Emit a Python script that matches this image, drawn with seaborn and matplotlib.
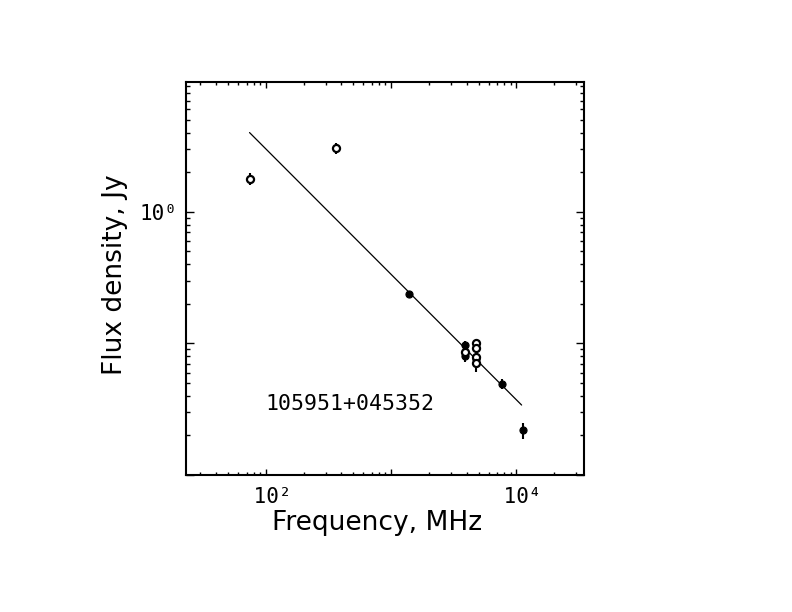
import numpy as np
import pandas as pd
import seaborn as sns
import matplotlib.pyplot as plt
from matplotlib.ticker import LogLocator, NullFormatter, FixedLocator, FixedFormatter

# open-circle measurements (MHz, Jy)
open_freq = [74, 365, 3900, 4800, 4800, 4800, 4800]
open_flux = [1.78, 3.04, 0.0859, 0.101, 0.0917, 0.0788, 0.0714]
open_err = [0.18, 0.30, 0.004, 0.004, 0.004, 0.004, 0.011]

# filled measurements (MHz, Jy)
fill_freq = [1400, 3900, 3900, 4800, 7700, 11200]
fill_flux = [0.238, 0.0966, 0.080, 0.0757, 0.0494, 0.0219]
fill_err = [0.007, 0.007, 0.008, 0.004, 0.0045, 0.003]

# fitted spectrum end points
fit_freq = [74, 11000]
fit_flux = [4.0, 0.034]

source_name = "105951+045352"
xtick_vals = [100, 1000, 10000]
xtick_text = [" 10\u00b2", "", " 10\u2074"]
ytick_vals = [0.01, 0.1, 1, 10]
ytick_text = ["", "", "10\u2070", ""]

sns.set_style("ticks")
plt.rcParams['font.family'] = ['DejaVu Sans Mono', 'DejaVu Sans']
plt.rcParams['text.color'] = 'black'
plt.rcParams['axes.labelcolor'] = 'black'
plt.rcParams['xtick.color'] = 'black'
plt.rcParams['ytick.color'] = 'black'

fig = plt.figure(figsize=(7.92, 6.12), dpi=100)
ax = fig.add_axes([0.2348, 0.2239, 0.5025, 0.6422])

op = pd.DataFrame({'freq': open_freq, 'flux': open_flux, 'err': open_err})
fl = pd.DataFrame({'freq': fill_freq, 'flux': fill_flux, 'err': fill_err})
fit = pd.DataFrame({'freq': fit_freq, 'flux': fit_flux})

sns.lineplot(data=fit, x='freq', y='flux', color='black', linewidth=0.9, ax=ax)

ax.errorbar(op['freq'], op['flux'], yerr=op['err'], fmt='none', ecolor='black',
            elinewidth=1.5, capsize=0, zorder=3)
ax.errorbar(fl['freq'], fl['flux'], yerr=fl['err'], fmt='none', ecolor='black',
            elinewidth=1.5, capsize=0, zorder=3)

sns.scatterplot(data=fl, x='freq', y='flux', marker='o', s=26, color='black',
                edgecolor='black', linewidth=0.8, zorder=4, ax=ax)
sns.scatterplot(data=op, x='freq', y='flux', marker='o', s=26, facecolor='white',
                edgecolor='black', linewidth=1.6, zorder=5, ax=ax)

ax.set_xscale('log')
ax.set_yscale('log')
ax.set_xlim(23, 34600)
ax.set_ylim(0.01, 9.7)

ax.xaxis.set_major_locator(FixedLocator(xtick_vals))
ax.xaxis.set_major_formatter(FixedFormatter(xtick_text))
ax.yaxis.set_major_locator(FixedLocator(ytick_vals))
ax.yaxis.set_major_formatter(FixedFormatter(ytick_text))
ax.xaxis.set_minor_locator(LogLocator(base=10, subs=np.arange(2, 10), numticks=20))
ax.yaxis.set_minor_locator(LogLocator(base=10, subs=np.arange(2, 10), numticks=20))
ax.xaxis.set_minor_formatter(NullFormatter())
ax.yaxis.set_minor_formatter(NullFormatter())

ax.tick_params(axis='x', which='major', direction='in', length=4.5, width=1,
               top=True, bottom=True, labelsize=15, pad=9)
ax.tick_params(axis='x', which='minor', direction='in', length=2.5, width=1,
               top=True, bottom=True)
ax.tick_params(axis='y', which='major', direction='in', length=6, width=1,
               left=True, right=True, labelsize=15, pad=6)
ax.tick_params(axis='y', which='minor', direction='in', length=3.2, width=1,
               left=True, right=True)

for sp in ax.spines.values():
    sp.set_linewidth(1.5)
    sp.set_color('black')

ax.set_xlabel("Frequency, MHz", fontsize=19, family='DejaVu Sans')
ax.set_ylabel("Flux density, Jy", fontsize=19, family='DejaVu Sans')
ax.xaxis.set_label_coords(0.479, -0.122)
ax.xaxis.label.set_va('center')
ax.yaxis.set_label_coords(-0.178, 0.509)
ax.yaxis.label.set_va('center')

ax.text(0.2, 0.18, source_name, transform=ax.transAxes, fontsize=15.5,
        ha='left', va='center')

fig.savefig('out.png', dpi=100)
